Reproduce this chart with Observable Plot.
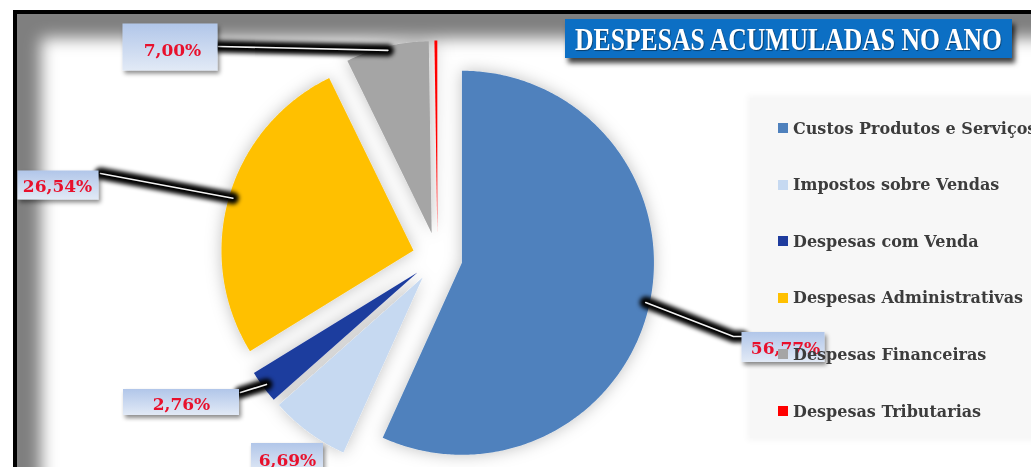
<!DOCTYPE html>
<html><head><meta charset="utf-8">
<script src="https://cdn.jsdelivr.net/npm/d3@7"></script>
<script src="https://cdn.jsdelivr.net/npm/@observablehq/plot@0.6"></script>
<style>
body{margin:0;background:#fff;}
#wrap{position:relative;width:1031px;height:467px;overflow:hidden;}
#frame{position:absolute;left:13px;top:10px;width:1100px;height:540px;border:4px solid #000;box-sizing:border-box;background:#fff;box-shadow:inset 0 0 16px 24px #7f7f7f;z-index:0;}
#legendBg{position:absolute;left:750px;top:98px;width:300px;height:340px;background:#f7f7f7;z-index:1;box-shadow:0 0 6px 3px #f7f7f7;}
#chart{position:absolute;left:0;top:0;z-index:2;}
#legend{position:absolute;left:0;top:0;width:1031px;height:467px;z-index:3;pointer-events:none;}
.item{position:absolute;left:778px;height:20px;display:flex;align-items:center;white-space:nowrap;font-family:"DejaVu Serif",serif;font-weight:bold;font-size:16px;color:#3c3c3c;}
.sw{width:10px;height:10px;margin-right:5px;flex:none;}
#title{position:absolute;left:565px;top:19px;width:447px;height:39px;background:#0c6fc4;box-shadow:3px 5px 5px rgba(0,0,0,.75);z-index:4;overflow:hidden;}
#title span{position:absolute;left:10px;top:1px;font-family:"Liberation Serif",serif;font-weight:bold;font-size:32px;line-height:38px;color:#fff;white-space:nowrap;transform-origin:0 50%;text-shadow:1px 1px 1px rgba(0,0,0,.45);}
</style></head>
<body>
<div id="wrap">
  <div id="frame"></div>
  <div id="legendBg"></div>
  <div id="chart"></div>
  <div id="legend"></div>
  <div id="title"><span>DESPESAS ACUMULADAS NO ANO</span></div>
</div>
<script>
// ---- data ----
const categories = ["Custos Produtos e Serviços","Impostos sobre Vendas","Despesas com Venda","Despesas Administrativas","Despesas Financeiras","Despesas Tributarias"];
const values = [56.77, 6.69, 2.76, 26.54, 7.00, 0.24];
const valueLabels = ["56,77%","6,69%","2,76%","26,54%","7,00%",""];
const colors = ["#4f81bd","#c6d9f1","#1f3c9e","#ffc000","#a5a5a5","#ff0000"];

// ---- layout ----
const W = 1031, H = 467;
const CX = 437, CY = 257, R = 192, EXPLODE = 25;
const labelLayout = [
  {cx:783, cy:347, w:83, h:30, tx:785, ty:348, path:[[733,336],[742,336]]},
  {cx:287, cy:458, w:72, h:30, tx:287, ty:460, path:null},
  {cx:181, cy:402, w:116, h:26, tx:181, ty:404, path:[[240,392]]},
  {cx:58, cy:185, w:81, h:29, tx:57, ty:186, path:[[100,173]]},
  {cx:170, cy:47, w:95, h:47, tx:172, ty:50, path:[[218,46]]},
  null
];
const legendTop = 118, legendStep = 56.6;

const arcs = d3.pie().sort(null).value(d => d)(values);
const info = arcs.map(a => {
  const mid = (a.startAngle + a.endAngle) / 2;
  return {a, mid, ox: CX + EXPLODE * Math.sin(mid), oy: CY - EXPLODE * Math.cos(mid)};
});

const marks = [];
info.forEach((d, i) => {
  const {a, ox, oy} = d;
  const n = Math.max(2, Math.ceil((a.endAngle - a.startAngle) / 0.01));
  const pts = [{x: ox, y: oy}];
  for (let k = 0; k <= n; k++) {
    const t = a.startAngle + (a.endAngle - a.startAngle) * k / n;
    pts.push({x: ox + R * Math.sin(t), y: oy - R * Math.cos(t)});
  }
  pts.push({x: ox, y: oy});
  marks.push(Plot.line(pts, {x: "x", y: "y", fill: colors[i], stroke: "none", ariaDescription: "slice"}));
});

const leaderPts = [];
labelLayout.forEach((L, i) => {
  if (!L || !L.path) return;
  const d = info[i];
  leaderPts.push({k: i, x: d.ox + (R - 4) * Math.sin(d.mid), y: d.oy - (R - 4) * Math.cos(d.mid)});
  L.path.forEach(p => leaderPts.push({k: i, x: p[0], y: p[1]}));
});
marks.push(Plot.line(leaderPts, {x: "x", y: "y", z: "k", stroke: "#000", strokeWidth: 12, ariaDescription: "leadershadow"}));
marks.push(Plot.line(leaderPts, {x: "x", y: "y", z: "k", stroke: "#f2f2f2", strokeWidth: 1.6}));

const boxes = [];
labelLayout.forEach((L, i) => {
  if (!L) return;
  boxes.push({x1: L.cx - L.w / 2, x2: L.cx + L.w / 2, y1: L.cy - L.h / 2, y2: L.cy + L.h / 2, tx: L.tx, ty: L.ty, label: valueLabels[i]});
});
marks.push(Plot.rect(boxes, {x1: "x1", x2: "x2", y1: "y1", y2: "y2", fill: "#c6d9f1", ariaDescription: "box"}));
marks.push(Plot.text(boxes, {x: "tx", y: "ty", text: "label", fill: "#e8102c", fontSize: 17, fontWeight: "bold", fontFamily: "DejaVu Serif"}));

const svg = Plot.plot({
  width: W, height: H, margin: 0,
  x: {domain: [0, W], range: [0, W], axis: null},
  y: {domain: [0, H], range: [0, H], axis: null},
  style: {background: "transparent", overflow: "visible"},
  marks
});
document.getElementById("chart").appendChild(svg);

const s = d3.select(svg);
s.insert("defs", ":first-child").html(`
  <filter id="glow" filterUnits="userSpaceOnUse" x="0" y="0" width="${W}" height="${H}">
    <feDropShadow dx="0" dy="0" stdDeviation="8" flood-color="#000" flood-opacity="0.25"/>
  </filter>
  <filter id="blur" filterUnits="userSpaceOnUse" x="0" y="0" width="${W}" height="${H}">
    <feGaussianBlur stdDeviation="2.2"/>
  </filter>
  <filter id="boxShadow" filterUnits="userSpaceOnUse" x="0" y="0" width="${W}" height="${H}">
    <feDropShadow dx="2" dy="3" stdDeviation="2" flood-color="#000" flood-opacity="0.45"/>
  </filter>
  <linearGradient id="lblGrad" x1="0" y1="0" x2="0" y2="1">
    <stop offset="0" stop-color="#b1c6e9"/><stop offset="1" stop-color="#e2eaf6"/>
  </linearGradient>`);
const sliceGroups = s.selectAll("g[aria-description='slice']").nodes();
if (sliceGroups.length) {
  const holder = document.createElementNS("http://www.w3.org/2000/svg", "g");
  holder.setAttribute("filter", "url(#glow)");
  sliceGroups[0].parentNode.insertBefore(holder, sliceGroups[0]);
  sliceGroups.forEach(g => holder.appendChild(g));
}
s.selectAll("g[aria-description='leadershadow']").attr("filter", "url(#blur)");
s.selectAll("g[aria-description='box']").attr("filter", "url(#boxShadow)").attr("fill", "url(#lblGrad)").selectAll("rect").attr("fill", "url(#lblGrad)");

// legend
const leg = document.getElementById("legend");
categories.forEach((c, i) => {
  const it = document.createElement("div");
  it.className = "item";
  it.style.top = (legendTop + i * legendStep) + "px";
  it.innerHTML = `<span class="sw" style="background:${colors[i]}"></span><span>${c}</span>`;
  leg.appendChild(it);
});
// title fit
const ts = document.querySelector("#title span");
const tw = ts.getBoundingClientRect().width;
ts.style.transform = `scaleX(${427 / tw})`;
</script>
</body></html>
